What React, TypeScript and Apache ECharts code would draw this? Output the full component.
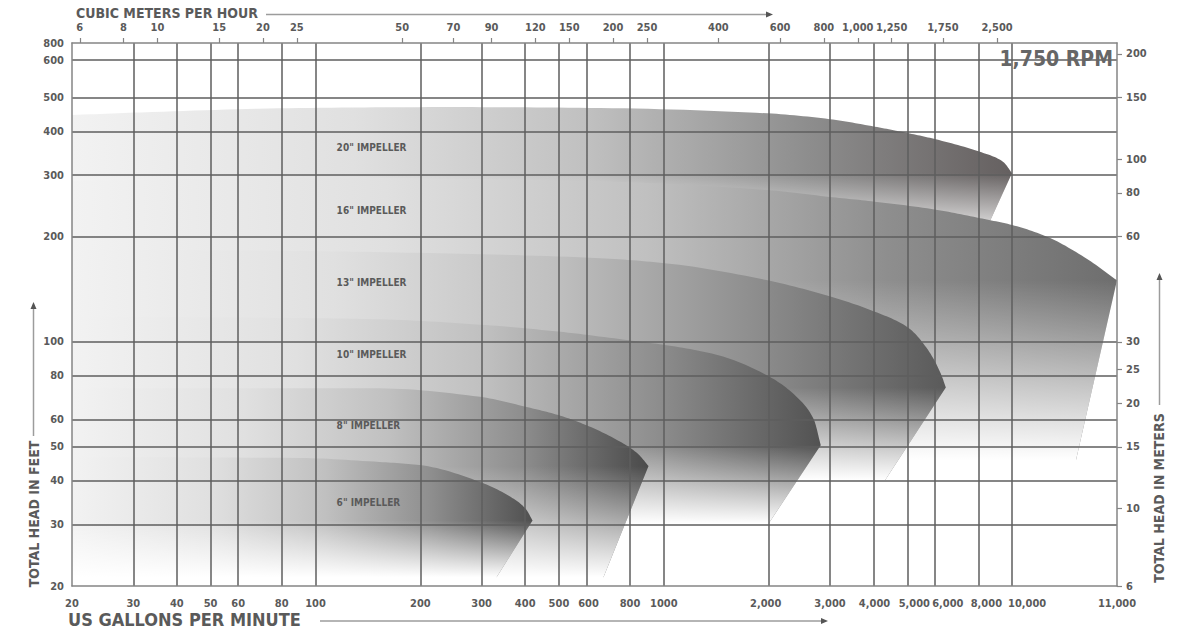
import React, { useEffect, useRef } from 'react';
import * as echarts from 'echarts';

// ---- tick values (positions) and their printed labels ----
const gpmTickValues = [20, 30, 40, 50, 60, 80, 100, 200, 300, 400, 500, 600, 800, 1000, 2000, 3000, 4000, 5000, 6000, 8000, 10000, 20000];
const gpmTickLabels = ['20', '30', '40', '50', '60', '80', '100', '200', '300', '400', '500', '600', '800', '1000', '2,000', '3,000', '4,000', '5,000', '6,000', '8,000', '10,000', '11,000'];
const m3hTickValues = [6, 8, 10, 15, 20, 25, 50, 70, 90, 120, 150, 200, 250, 400, 600, 800, 1000, 1250, 1750, 2500];
const m3hTickLabels = ['6', '8', '10', '15', '20', '25', '50', '70', '90', '120', '150', '200', '250', '400', '600', '800', '1,000', '1,250', '1,750', '2,500'];
const feetTickValues = [20, 30, 40, 50, 60, 80, 100, 200, 300, 400, 500, 640, 717];
const feetTickLabels = ['20', '30', '40', '50', '60', '80', '100', '200', '300', '400', '500', '600', '800'];
const meterTickValues = [6, 10, 15, 20, 25, 30, 60, 80, 100, 150, 200];
const meterTickLabels = ['6', '10', '15', '20', '25', '30', '60', '80', '100', '150', '200'];

// ---- impeller curves: [US gpm, total head ft] ----
const impellerNames = ['20" IMPELLER', '16" IMPELLER', '13" IMPELLER', '10" IMPELLER', '8" IMPELLER', '6" IMPELLER'];
const curve20 = [[20, 446], [34, 455], [90, 467], [244, 470], [658, 467], [1987, 451], [2994, 434], [4034, 413], [5017, 396], [6040, 380], [8081, 350], [9410, 328], [9990, 304]];
const curve16 = [[20, 289], [90, 295], [244, 293], [658, 288], [1987, 272], [2994, 260], [4034, 252], [6040, 239], [8081, 226], [10000, 216], [12590, 200], [16075, 175], [20000, 150]];
const curve13 = [[20, 184], [90, 182], [244, 179], [658, 173.5], [1005, 168], [1987, 150], [2994, 135], [4034, 122], [5017, 110], [5726, 95], [6243, 81], [6452, 74]];
const curve10 = [[20, 118], [90, 117], [153, 116], [297, 112], [498, 107], [797, 101], [1005, 98], [1408, 92], [1987, 80], [2392, 70], [2694, 60], [2822, 50.6]];
const curve8 = [[20, 73.7], [90, 73.7], [153, 73.6], [297, 69.6], [401, 65.2], [498, 61.7], [600, 57.7], [736, 52.3], [841, 47.9], [904, 44.1]];
const curve6 = [[20, 46.8], [90, 46.5], [153, 45.3], [199, 44.4], [297, 39.7], [363, 36], [401, 33.3], [420, 30.8]];
// lower end of the slanted right edge of each band
const slantEnds = [[8081, 192], [15250, 45.8], [4322, 40.2], [2000, 30.2], [671, 21.2], [331, 21.2]];
// label anchors [gpm, ft]
const labelGpm = [115, 115, 115, 115, 115, 115];
const labelHeads = [361, 237, 148, 92, 57.7, 34.7];

const curves = [curve20, curve16, curve13, curve10, curve8, curve6];
const bandEndColors = ['#656060', '#6e6e6e', '#5a5a5a', '#525252', '#4a4a4a', '#505050'];
// horizontal pixel nudges of crowded bottom labels (style only)
const gpmLabelShift = [0, 0, 0, 0, 0, 0, 0, 0, 0, 0, 0, 2, 0, 0, -3, 0, 1, 7, 13, 8, 15, 0];

const FONT = 'DejaVu Sans Condensed';
const TXT = '#5a5a5a';

function lookupIndex(values: number[], v: number) {
  for (let i = 0; i < values.length; i++) {
    if (Math.abs(values[i] - v) / values[i] < 1e-4) return i;
  }
  return -1;
}
function lookup(values: number[], labels: string[], v: number) {
  const i = lookupIndex(values, v);
  return i < 0 ? '' : labels[i];
}

// monotone cubic (Fritsch–Carlson) through pixel points sorted by x
function monotonePath(pts: number[][], seg = 14) {
  const n = pts.length;
  const dx: number[] = [], m: number[] = [];
  for (let i = 0; i < n - 1; i++) {
    dx[i] = pts[i + 1][0] - pts[i][0];
    m[i] = (pts[i + 1][1] - pts[i][1]) / dx[i];
  }
  const t: number[] = new Array(n);
  t[0] = m[0];
  t[n - 1] = m[n - 2];
  for (let i = 1; i < n - 1; i++) {
    if (m[i - 1] * m[i] <= 0) t[i] = 0;
    else {
      const w1 = 2 * dx[i] + dx[i - 1], w2 = dx[i] + 2 * dx[i - 1];
      t[i] = (w1 + w2) / (w1 / m[i - 1] + w2 / m[i]);
    }
  }
  const out: number[][] = [];
  for (let i = 0; i < n - 1; i++) {
    const h = dx[i], y0 = pts[i][1], y1 = pts[i + 1][1];
    for (let s = 0; s < seg; s++) {
      const u = s / seg, u2 = u * u, u3 = u2 * u;
      const y = (2 * u3 - 3 * u2 + 1) * y0 + (u3 - 2 * u2 + u) * h * t[i] + (-2 * u3 + 3 * u2) * y1 + (u3 - u2) * h * t[i + 1];
      out.push([pts[i][0] + u * h, y]);
    }
  }
  out.push(pts[n - 1]);
  return out;
}

function bandSeries(idx: number) {
  const curve = curves[idx];
  return {
    type: 'custom',
    name: impellerNames[idx],
    xAxisIndex: 0,
    yAxisIndex: 0,
    z: 2,
    clip: true,
    silent: true,
    data: curve,
    renderItem: (params: any, api: any) => {
      if (params.dataIndex !== 0) return null;
      const cs = params.coordSys;
      const top = monotonePath(curve.map((p) => api.coord(p)));
      const end = top[top.length - 1];
      const slant = api.coord(slantEnds[idx]);
      const baseY = cs.y + cs.height + 40;
      const leftX = cs.x - 40;
      // continue the slanted edge beyond the plot bottom (clipped away)
      const k = (baseY - end[1]) / (slant[1] - end[1]);
      const slantExt = [end[0] + k * (slant[0] - end[0]), baseY];
      const body = [[leftX, top[0][1]], ...top, slant, slantExt, [leftX, baseY]];
      const veil = [[leftX, top[0][1]], ...top, slant, [slant[0] + 60, slant[1]], [slant[0] + 60, baseY], [leftX, baseY]];
      const fill = new echarts.graphic.LinearGradient(cs.x, 0, end[0], 0, [
        { offset: 0, color: '#f2f2f2' },
        { offset: 0.3, color: '#e0e0e0' },
        { offset: 0.55, color: '#c0c0c0' },
        { offset: 0.78, color: '#8e8e8e' },
        { offset: 1, color: bandEndColors[idx] },
      ], true);
      const fade = new echarts.graphic.LinearGradient(0, end[1], 0, slant[1], [
        { offset: 0, color: 'rgba(255,255,255,0)' },
        { offset: 1, color: 'rgba(255,255,255,1)' },
      ], true);
      return {
        type: 'group',
        children: [
          { type: 'polygon', shape: { points: body }, style: { fill } },
          { type: 'polygon', shape: { points: veil }, style: { fill: fade } },
        ],
      };
    },
  };
}

const labelData = labelGpm.map((g, i) => [g, labelHeads[i]]);

// rich styles to nudge crowded labels
const shiftRich: any = {};
gpmLabelShift.forEach((s) => {
  if (s === 0) return;
  const key = s > 0 ? `r${s}` : `l${-s}`;
  shiftRich[key] = {
    color: TXT, fontFamily: FONT, fontWeight: 'bold', fontSize: 11,
    padding: s > 0 ? [0, 0, 0, 2 * s] : [0, -2 * s, 0, 0],
  };
});

export default function App() {
  const ref = useRef<HTMLDivElement>(null);
  useEffect(() => {
    if (!ref.current) return;
    const chart = echarts.init(ref.current, null, { renderer: 'svg' });
    const axisLine = { show: true, onZero: false, lineStyle: { color: '#858585', width: 1.5 } };
    const split = { show: true, showMinLine: false, showMaxLine: false, lineStyle: { color: '#5e5e5e', width: 1.5 } };
    const lbl = { color: TXT, fontFamily: FONT, fontWeight: 'bold', fontSize: 11 };
    const option: any = {
      animation: false,
      backgroundColor: '#ffffff',
      grid: { left: 72, right: 66, top: 43, bottom: 44, containLabel: false },
      xAxis: [
        {
          type: 'log', position: 'bottom', min: 20, max: 20000, z: 10,
          axisLine,
          axisTick: { show: false, customValues: gpmTickValues },
          axisLabel: {
            ...lbl, margin: 12, customValues: gpmTickValues, rich: shiftRich,
            formatter: (v: number) => {
              const i = lookupIndex(gpmTickValues, v);
              if (i < 0) return '';
              const s = gpmLabelShift[i];
              if (!s) return gpmTickLabels[i];
              return `{${s > 0 ? 'r' + s : 'l' + -s}|${gpmTickLabels[i]}}`;
            },
          },
          splitLine: split,
          minorTick: { show: false }, minorSplitLine: { show: false },
        },
        {
          type: 'log', position: 'top', min: 5.7, max: 5500, z: 10,
          axisLine,
          axisTick: { show: true, length: 5, customValues: m3hTickValues, lineStyle: { color: '#858585', width: 1.2 } },
          axisLabel: { ...lbl, margin: 10, customValues: m3hTickValues, formatter: (v: number) => lookup(m3hTickValues, m3hTickLabels, v) },
          splitLine: { show: false },
        },
      ],
      yAxis: [
        {
          type: 'log', position: 'left', min: 20, max: 717, z: 10,
          axisLine,
          axisTick: { show: false, customValues: feetTickValues },
          axisLabel: { ...lbl, margin: 8, customValues: feetTickValues, formatter: (v: number) => lookup(feetTickValues, feetTickLabels, v) },
          splitLine: split,
        },
        {
          type: 'log', position: 'right', min: 6, max: 215, z: 10,
          axisLine,
          axisTick: { show: true, length: 5, customValues: meterTickValues, lineStyle: { color: '#858585', width: 1.2 } },
          axisLabel: { ...lbl, margin: 9, customValues: meterTickValues, formatter: (v: number) => lookup(meterTickValues, meterTickLabels, v) },
          splitLine: { show: false },
        },
      ],
      series: [
        ...curves.map((_, i) => bandSeries(i)),
        {
          type: 'custom',
          name: 'labels',
          xAxisIndex: 0,
          yAxisIndex: 0,
          z: 3,
          silent: true,
          data: labelData,
          renderItem: (params: any, api: any) => {
            const p = api.coord([api.value(0), api.value(1)]);
            return {
              type: 'text',
              x: p[0],
              y: p[1],
              style: {
                text: impellerNames[params.dataIndex],
                fill: TXT,
                font: `bold 10px "${FONT}"`,
                align: 'left',
                verticalAlign: 'middle',
                textAlign: 'left',
                textVerticalAlign: 'middle',
              },
            };
          },
        },
      ],
      graphic: [
        { type: 'text', x: 76, y: 13, style: { text: 'CUBIC METERS PER HOUR', font: `bold 14px "${FONT}"`, fill: TXT, align: 'left', verticalAlign: 'middle', textAlign: 'left', textVerticalAlign: 'middle' } },
        { type: 'line', shape: { x1: 266, y1: 14.5, x2: 768, y2: 14.5 }, style: { stroke: '#9c9c9c', lineWidth: 1.5 } },
        { type: 'polygon', shape: { points: [[766, 11.5], [773, 14.5], [766, 17.5]] }, style: { fill: '#555' } },

        { type: 'text', x: 68, y: 619, style: { text: 'US GALLONS PER MINUTE', font: `bold 18px "${FONT}"`, fill: TXT, align: 'left', verticalAlign: 'middle', textAlign: 'left', textVerticalAlign: 'middle' } },
        { type: 'line', shape: { x1: 320, y1: 621, x2: 822, y2: 621 }, style: { stroke: '#9c9c9c', lineWidth: 1.5 } },
        { type: 'polygon', shape: { points: [[821, 618], [828, 621], [821, 624]] }, style: { fill: '#555' } },

        { type: 'text', x: 33.5, y: 514, rotation: Math.PI / 2, style: { text: 'TOTAL HEAD IN FEET', font: `bold 14px "${FONT}"`, fill: TXT, align: 'center', verticalAlign: 'middle', textAlign: 'center', textVerticalAlign: 'middle' } },
        { type: 'line', shape: { x1: 33.5, y1: 436, x2: 33.5, y2: 308 }, style: { stroke: '#9c9c9c', lineWidth: 1.5 } },
        { type: 'polygon', shape: { points: [[30.5, 309], [33.5, 302], [36.5, 309]] }, style: { fill: '#555' } },

        { type: 'text', x: 1159, y: 498, rotation: Math.PI / 2, style: { text: 'TOTAL HEAD IN METERS', font: `bold 14px "${FONT}"`, fill: TXT, align: 'center', verticalAlign: 'middle', textAlign: 'center', textVerticalAlign: 'middle' } },
        { type: 'line', shape: { x1: 1159.5, y1: 405, x2: 1159.5, y2: 279 }, style: { stroke: '#9c9c9c', lineWidth: 1.5 } },
        { type: 'polygon', shape: { points: [[1156.5, 280], [1159.5, 273], [1162.5, 280]] }, style: { fill: '#555' } },

        { type: 'text', x: 1113, y: 59, z: 20, style: { text: '1,750 RPM', font: `bold 21px "${FONT}"`, fill: '#666666', align: 'right', verticalAlign: 'middle', textAlign: 'right', textVerticalAlign: 'middle' } },
      ],
    };
    chart.setOption(option);
    return () => chart.dispose();
  }, []);
  return <div ref={ref} style={{ position: 'fixed', left: 0, top: 0, width: 1183, height: 630 }} />;
}
